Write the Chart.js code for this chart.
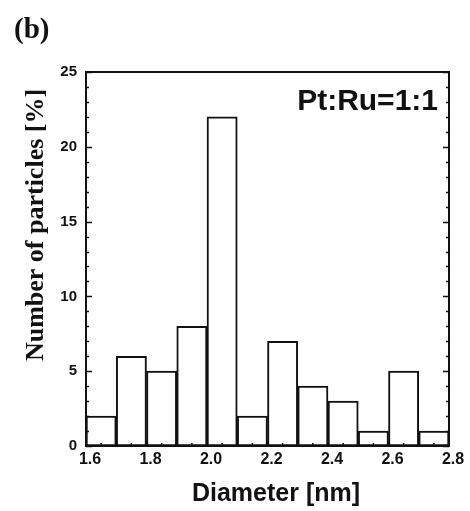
<!DOCTYPE html>
<html>
<head>
<meta charset="utf-8">
<script src="https://cdn.jsdelivr.net/npm/chart.js@4.4.0/dist/chart.umd.min.js"></script>
<style>
html, body { margin: 0; padding: 0; background: #fff; }
#wrap { width: 470px; height: 511px; }
</style>
</head>
<body>
<div id="wrap"><canvas id="myChart" width="470" height="511"></canvas></div>
<script>
// bin centres (nm), bin width 0.1
const diameters = [1.65, 1.75, 1.85, 1.95, 2.05, 2.15, 2.25, 2.35, 2.45, 2.55, 2.65, 2.75];
// number of particles in %
const percents = [2, 6, 5, 8, 22, 2, 7, 4, 3, 1, 5, 1];
const xTicks = [1.6, 1.8, 2.0, 2.2, 2.4, 2.6, 2.8];
const yTicks = [0, 5, 10, 15, 20, 25];

const ink = '#111';

// frame, inward ticks and texts
const decor = {
id: 'decor',
afterDraw(chart) {
const ctx = chart.ctx;
const a = chart.chartArea;
const xs = chart.scales.x;
const ys = chart.scales.y;
ctx.save();
ctx.strokeStyle = ink;
ctx.lineWidth = 2;
ctx.strokeRect(a.left, a.top, a.right - a.left, a.bottom - a.top);

// y ticks left and right, minor every 1
ctx.lineWidth = 1.5;
for (let v = 0; v <= 25; v++) {
const y = Math.round(ys.getPixelForValue(v)) + 0.5;
const len = v % 5 === 0 ? 6 : 3;
ctx.beginPath();
ctx.moveTo(a.left, y); ctx.lineTo(a.left + len, y);
ctx.moveTo(a.right, y); ctx.lineTo(a.right - len, y);
ctx.stroke();
}
// x minor ticks
for (let i = 0; i < 24; i++) {
const v = 1.6 + i * 0.05;
const x = xs.getPixelForValue(v);
const len = i % 2 === 0 ? 5 : 3;
ctx.beginPath();
ctx.moveTo(x, a.bottom); ctx.lineTo(x, a.bottom - len);
ctx.stroke();
}

ctx.fillStyle = ink;
ctx.textAlign = 'left';
ctx.textBaseline = 'alphabetic';
ctx.font = 'bold 29px "Liberation Serif", serif';
ctx.fillText('(b)', 14, 38);

ctx.textAlign = 'right';
ctx.font = 'bold 30px "Liberation Sans", Arial, sans-serif';
ctx.fillText('Pt:Ru=1:1', 438, 110);

ctx.textAlign = 'center';
ctx.font = 'bold 25px "Liberation Sans", Arial, sans-serif';
ctx.fillText('Diameter [nm]', 276, 501);

ctx.translate(36, 225);
ctx.rotate(-Math.PI / 2);
ctx.textBaseline = 'middle';
ctx.font = 'bold 26px "Liberation Serif", serif';
ctx.fillText('Number of particles [%]', 0, 0);
ctx.restore();
}
};

const config = {
type: 'bar',
data: {
datasets: [{
label: 'Number of particles [%]',
data: diameters.map((d, i) => ({ x: d, y: percents[i] })),
backgroundColor: '#fff',
borderColor: ink,
borderWidth: 2,
borderSkipped: false,
barPercentage: 1,
categoryPercentage: 1
}]
},
plugins: [decor],
options: {
animation: false,
responsive: false,
layout: { padding: { left: 0, right: 21, top: 72, bottom: 0 } },
scales: {
x: {
type: 'linear',
min: 1.6,
max: 2.8,
offset: false,
afterFit: function(scale) { scale.height = 65; },
afterBuildTicks: function(scale) { scale.ticks = xTicks.map(v => ({ value: v })); },
grid: { display: false, drawTicks: false },
border: { display: false },
ticks: {
padding: 4,
labelOffset: 4,
color: ink,
font: { family: '"Liberation Sans", Arial, sans-serif', size: 16, weight: 'bold' },
callback: function(value) { return value.toFixed(1); }
}
},
y: {
min: 0,
max: 25,
afterFit: function(scale) { scale.width = 86; },
afterBuildTicks: function(scale) { scale.ticks = yTicks.map(v => ({ value: v })); },
grid: { display: false, drawTicks: false },
border: { display: false },
ticks: {
padding: 9,
color: ink,
font: { family: '"Liberation Sans", Arial, sans-serif', size: 15, weight: 'bold' }
}
}
},
plugins: {
legend: { display: false },
tooltip: { enabled: false }
}
}
};

new Chart(document.getElementById('myChart'), config);
</script>
</body>
</html>
